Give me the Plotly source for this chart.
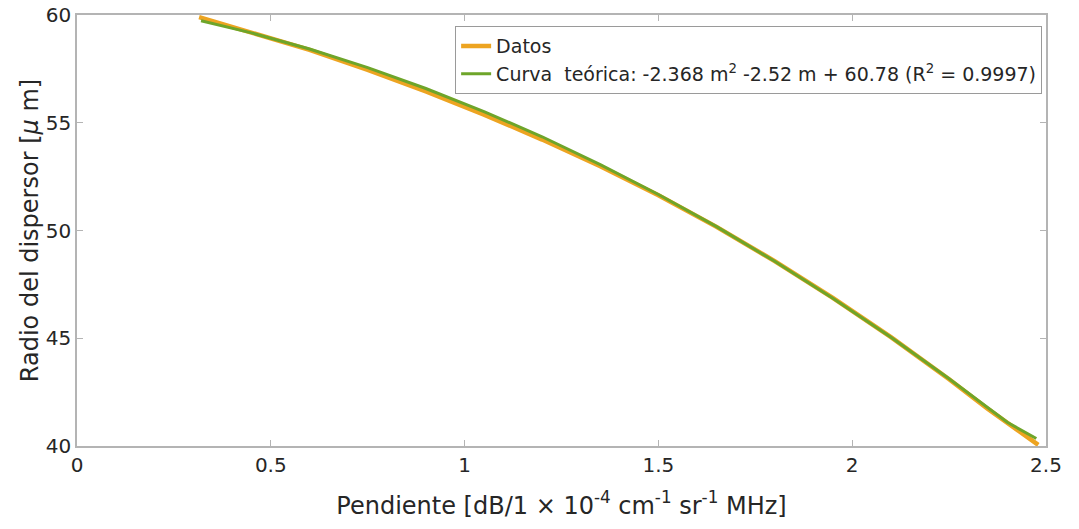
import plotly.graph_objects as go

# Datos (orange)
datos_m = [0.315, 0.45, 0.60, 0.75, 0.90, 1.05, 1.20, 1.35, 1.50, 1.65, 1.80, 1.95, 2.10, 2.25, 2.35, 2.48]
datos_r = [59.90, 59.20, 58.38, 57.45, 56.45, 55.38, 54.22, 52.98, 51.64, 50.17, 48.58, 46.87, 45.05, 43.10, 41.72, 40.05]

# Curva teórica (green)
curva_m = [0.32, 0.45, 0.60, 0.75, 0.90, 1.05, 1.20, 1.35, 1.50, 1.65, 1.80, 1.95, 2.10, 2.25, 2.40, 2.475]
curva_r = [59.73, 59.17, 58.42, 57.56, 56.59, 55.52, 54.35, 53.06, 51.67, 50.18, 48.57, 46.86, 45.05, 43.12, 41.10, 40.35]

x_ticks = [0, 0.5, 1, 1.5, 2, 2.5]
x_ticklabels = ["0", "0.5", "1", "1.5", "2", "2.5"]
y_ticks = [40, 45, 50, 55, 60]
y_ticklabels = ["40", "45", "50", "55", "60"]

FONT = "DejaVu Sans, Noto Sans, sans-serif"

fig = go.Figure()
fig.add_trace(go.Scatter(x=datos_m, y=datos_r, mode="lines", name="Datos",
                         line=dict(color="#EDA421", width=4.5)))
fig.add_trace(go.Scatter(x=curva_m, y=curva_r, mode="lines",
                         name="Curva  teórica: -2.368 m<sup>2</sup> -2.52 m + 60.78 (R<sup>2</sup> = 0.9997)",
                         line=dict(color="#6EA52A", width=3)))

axis_common = dict(showgrid=False, zeroline=False, showline=True, linecolor="#b4b4b4",
                   linewidth=1.5, mirror="ticks", ticks="inside", ticklen=6,
                   tickcolor="#b4b4b4", automargin=False, ticklabeloverflow="allow",
                   tickfont=dict(family=FONT, size=20, color="#262626"))

fig.update_layout(
    width=1079, height=529,
    margin=dict(l=77, r=33, t=15, b=83),
    paper_bgcolor="white", plot_bgcolor="white",
    font=dict(family=FONT, color="#262626"),
    xaxis=dict(range=[0, 2.5], tickvals=x_ticks, ticktext=x_ticklabels,
               title=dict(text="Pendiente [dB/1 × 10<sup>-4</sup> cm<sup>-1</sup> sr<sup>-1</sup> MHz]",
                          font=dict(family=FONT, size=24, color="#262626"), standoff=21),
               **axis_common),
    yaxis=dict(range=[40, 60], tickvals=y_ticks, ticktext=y_ticklabels,
               title=dict(text="Radio del dispersor [<i>μ</i> m]",
                          font=dict(family=FONT, size=24, color="#262626"), standoff=0),
               **axis_common),
    legend=dict(x=0.996, y=0.974, xanchor="right", yanchor="top",
                bgcolor="white", bordercolor="#9a9a9a", borderwidth=1,
                font=dict(family=FONT, size=19, color="#262626"),
                itemwidth=30, tracegroupgap=0),
    showlegend=True,
)

fig.write_html("out.html", config={"displayModeBar": False},
               post_script="document.body.style.margin='0';")
